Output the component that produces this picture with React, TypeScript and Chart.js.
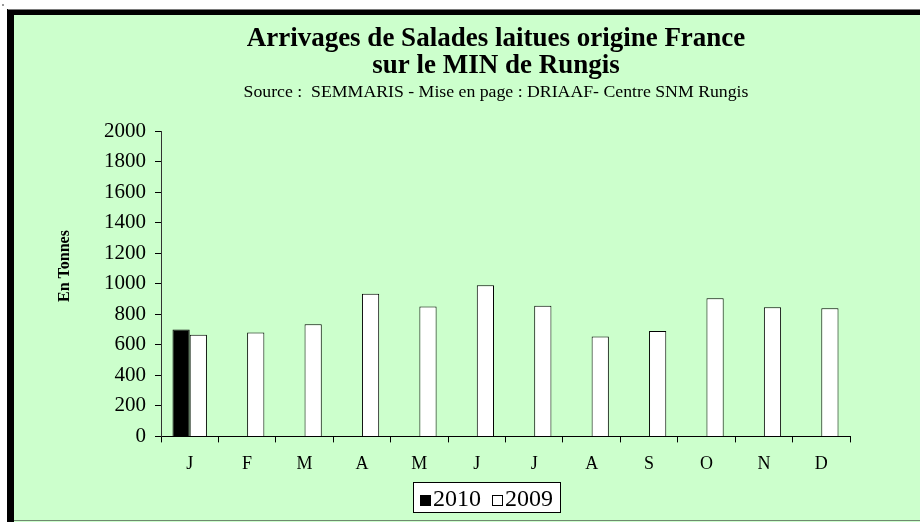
import React, { useEffect, useRef } from 'react';
import { Chart, registerables } from 'chart.js';

Chart.register(...registerables);

const FONT = "'Liberation Serif', 'Times New Roman', serif";

const months = ['J', 'F', 'M', 'A', 'M', 'J', 'J', 'A', 'S', 'O', 'N', 'D'];
const values2010: (number | null)[] = [700, null, null, null, null, null, null, null, null, null, null, null];
const values2009: number[] = [665, 680, 735, 935, 850, 990, 855, 655, 690, 905, 845, 840];
const seriesLabels = ['2010', '2009'];
const yMin = 0;
const yMax = 2000;
const yStep = 200;
const yTickLabels = ['0', '200', '400', '600', '800', '1000', '1200', '1400', '1600', '1800', '2000'];

const titleLines = ['Arrivages de Salades laitues origine France', 'sur le MIN de Rungis'];
const subtitleText = 'Source :  SEMMARIS - Mise en page : DRIAAF- Centre SNM Rungis';
const yAxisTitle = 'En Tonnes';

const TITLE_CENTER_X = 496;

const decorPlugin = {
  id: 'decor',
  afterLayout(chart: any) {
    (chart.boxes || []).forEach((b: any) => {
      if (b.position === 'top' && b.fullSize) {
        const w = b.right - b.left;
        b.left = TITLE_CENTER_X - w / 2;
        b.right = b.left + w;
      }
    });
  },
  beforeDraw(chart: any) {
    const ctx = chart.ctx as CanvasRenderingContext2D;
    const W = chart.width;
    const H = chart.height;
    ctx.save();
    ctx.fillStyle = '#ffffff';
    ctx.fillRect(0, 0, W, H);
    ctx.fillStyle = '#9a9a9a';
    ctx.fillRect(2, 4, 2, 2);
    ctx.fillStyle = '#000000';
    ctx.fillRect(7, 9, W - 7, H - 9);
    ctx.fillStyle = '#7a7a7a';
    ctx.fillRect(8, 9, W - 8, 1);
    ctx.fillStyle = '#CCFFCC';
    ctx.fillRect(14, 15, W - 14, H - 15);
    ctx.fillStyle = '#6f8a6f';
    ctx.fillRect(14, H - 2, W - 14, 1);
    ctx.restore();
  },
  afterDraw(chart: any) {
    const ctx = chart.ctx as CanvasRenderingContext2D;
    ctx.save();
    ctx.translate(64.5, 266);
    ctx.rotate(-Math.PI / 2);
    ctx.font = `bold 16px ${FONT}`;
    ctx.fillStyle = '#000';
    ctx.textAlign = 'center';
    ctx.textBaseline = 'middle';
    ctx.fillText(yAxisTitle, 0, 0);
    ctx.restore();

    ctx.save();
    ctx.font = `24px ${FONT}`;
    const items = chart.data.datasets.map((ds: any) => ({ text: ds.label, fill: ds.backgroundColor }));
    const sq = 11;
    const gapBT = 2;
    const gapItems = 11;
    const padL = 7;
    const padR = 8;
    let total = padL + padR;
    items.forEach((it: any, i: number) => {
      total += sq + gapBT + ctx.measureText(it.text).width + (i > 0 ? gapItems : 0);
    });
    const cx = 486.5;
    const left = Math.round(cx - total / 2);
    const top = 482;
    const h = 31;
    ctx.fillStyle = '#ffffff';
    ctx.fillRect(left, top, total, h);
    ctx.strokeStyle = '#000';
    ctx.lineWidth = 1;
    ctx.strokeRect(left + 0.5, top + 0.5, Math.round(total) - 1, h - 1);
    let x = left + padL;
    const baseline = 506;
    ctx.textBaseline = 'alphabetic';
    ctx.textAlign = 'left';
    items.forEach((it: any, i: number) => {
      if (i > 0) x += gapItems;
      ctx.fillStyle = it.fill;
      ctx.fillRect(x, baseline - sq, sq, sq);
      ctx.strokeStyle = '#000';
      ctx.strokeRect(x + 0.5, baseline - sq + 0.5, sq - 1, sq - 1);
      x += sq + gapBT;
      ctx.fillStyle = '#000';
      ctx.fillText(it.text, x, baseline);
      x += ctx.measureText(it.text).width;
    });
    ctx.restore();
  },
};

export default function App() {
  const canvasRef = useRef<HTMLCanvasElement | null>(null);

  useEffect(() => {
    const canvas = canvasRef.current;
    if (!canvas) return;
    const chart = new Chart(canvas, {
      type: 'bar',
      data: {
        labels: months,
        datasets: [
          {
            label: seriesLabels[0],
            data: values2010,
            backgroundColor: '#000000',
            borderColor: '#000000',
            borderWidth: 1,
            categoryPercentage: 0.6,
            barPercentage: 1.0,
          },
          {
            label: seriesLabels[1],
            data: values2009,
            backgroundColor: '#ffffff',
            borderColor: '#000000',
            borderWidth: 1,
            categoryPercentage: 0.6,
            barPercentage: 1.0,
          },
        ],
      },
      options: {
        responsive: false,
        animation: false,
        events: [],
        layout: { padding: { left: 95, right: 70, top: 26, bottom: 36 } },
        plugins: {
          legend: { display: false },
          tooltip: { enabled: false },
          title: {
            display: true,
            text: titleLines,
            color: '#000',
            font: { family: FONT, size: 27, weight: 'bold', lineHeight: 1.0 },
            padding: { top: 0, bottom: 2 },
          },
          subtitle: {
            display: true,
            text: subtitleText,
            color: '#000',
            font: { family: FONT, size: 17.75, lineHeight: 1.2 },
            padding: { top: 0, bottom: 27.7 },
          },
        },
        scales: {
          x: {
            grid: {
              display: true,
              drawOnChartArea: false,
              drawTicks: true,
              tickLength: 6,
              color: '#000',
              offset: true,
            },
            border: { display: true, color: '#000', width: 1 },
            ticks: {
              color: '#000',
              font: { family: FONT, size: 18 },
              padding: 11,
              maxRotation: 0,
              autoSkip: false,
            },
          },
          y: {
            min: yMin,
            max: yMax,
            afterFit: (scale: any) => {
              scale.width = 66;
            },
            grid: {
              display: true,
              drawOnChartArea: false,
              drawTicks: true,
              tickLength: 6,
              color: '#000',
            },
            border: { display: true, color: '#333', width: 1 },
            ticks: {
              stepSize: yStep,
              color: '#000',
              font: { family: FONT, size: 21 },
              padding: 9,
              callback: (value: any, index: number) => yTickLabels[index] ?? String(value),
            },
          },
        },
      },
      plugins: [decorPlugin],
    } as any);
    return () => {
      chart.destroy();
    };
  }, []);

  return (
    <div style={{ position: 'fixed', left: 0, top: 0, width: 920, height: 522 }}>
      <canvas ref={canvasRef} width={920} height={522} style={{ width: 920, height: 522, display: 'block' }} />
    </div>
  );
}
